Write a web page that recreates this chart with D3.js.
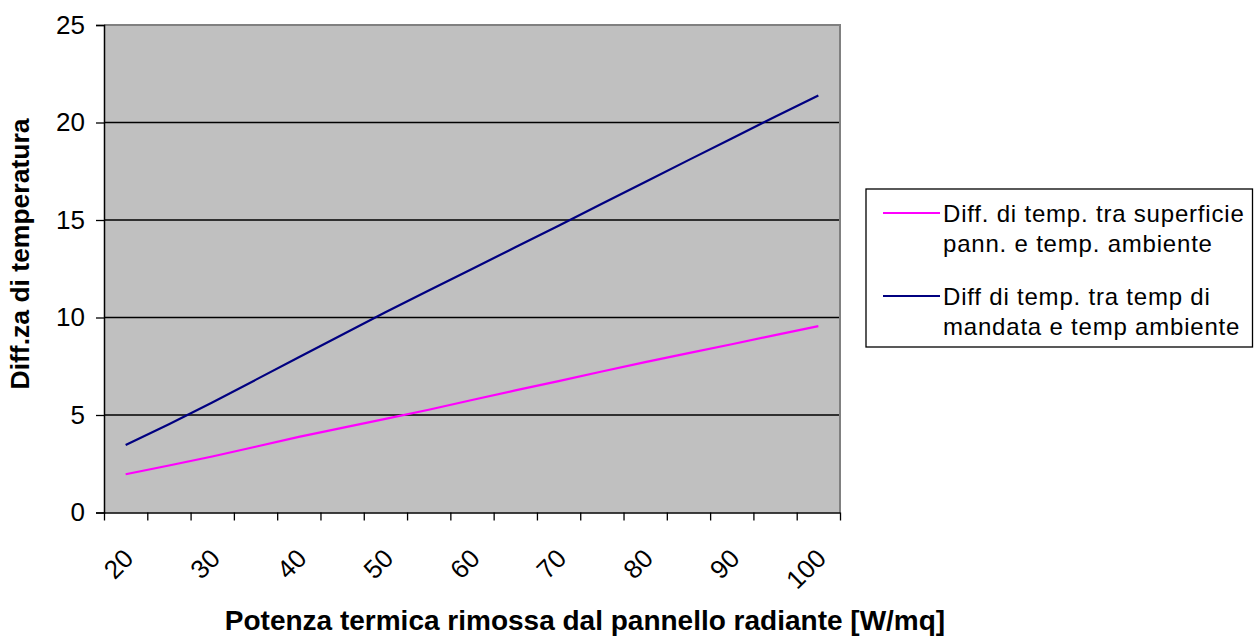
<!DOCTYPE html>
<html>
<head>
<meta charset="utf-8">
<script src="https://cdn.jsdelivr.net/npm/d3@7"></script>
<style>
  html, body { margin: 0; padding: 0; background: #fff; }
  svg { display: block; font-family: Arial, "Liberation Sans", sans-serif; }
</style>
</head>
<body>
<svg id="chart" width="1254" height="636"></svg>
<script>
// Heat output removed by the radiant panel [W/mq]
const categories = [20, 25, 30, 35, 40, 45, 50, 55, 60, 65, 70, 75, 80, 85, 90, 95, 100];
const tickLabels = ["20", "30", "40", "50", "60", "70", "80", "90", "100"];
const yTicks = [0, 5, 10, 15, 20, 25];

// Panel surface minus room temperature
const surfaceDiff = [1.96, 2.41, 2.87, 3.37, 3.88, 4.34, 4.80, 5.27, 5.77, 6.26, 6.74, 7.23, 7.71, 8.17, 8.63, 9.10, 9.56];
// Supply water minus room temperature
const supplyDiff = [3.46, 4.53, 5.64, 6.80, 7.96, 9.12, 10.27, 11.38, 12.49, 13.60, 14.71, 15.83, 16.95, 18.07, 19.18, 20.30, 21.39];

const seriesNames = [
  ["Diff. di temp. tra superficie", "pann. e temp. ambiente"],
  ["Diff di temp. tra temp di", "mandata e temp ambiente"]
];
const seriesColors = ["#ff00ff", "#000080"];

const svg = d3.select("#chart");
const plot = { left: 104, right: 840, top: 25, bottom: 512.5 };

const x = d3.scaleBand().domain(categories).range([plot.left, plot.right]).padding(0);
const edge = d3.scaleLinear().domain([0, categories.length]).range([plot.left, plot.right]);
const y = d3.scaleLinear().domain([0, 25]).range([plot.bottom, plot.top]);

// plot background
svg.append("rect")
  .attr("x", plot.left).attr("y", plot.top)
  .attr("width", plot.right - plot.left).attr("height", plot.bottom - plot.top)
  .attr("fill", "#c0c0c0");

// horizontal gridlines
svg.append("g").selectAll("line")
  .data(yTicks.filter(v => v > 0 && v < 25))
  .join("line")
  .attr("x1", plot.left).attr("x2", plot.right)
  .attr("y1", d => y(d)).attr("y2", d => y(d))
  .attr("stroke", "#000").attr("stroke-width", 1.3);

// top and right frame
svg.append("path")
  .attr("d", `M${plot.left},${plot.top}H${plot.right}V${plot.bottom}`)
  .attr("fill", "none").attr("stroke", "#808080").attr("stroke-width", 2);

// y axis
const yAxis = svg.append("g")
  .attr("transform", `translate(${plot.left},0)`)
  .call(d3.axisLeft(y).tickValues(yTicks).tickSize(8).tickPadding(11));
yAxis.select(".domain").attr("stroke", "#000").attr("stroke-width", 1.5);
yAxis.selectAll(".tick line").attr("stroke", "#000").attr("stroke-width", 1.3);
yAxis.selectAll(".tick text").attr("font-size", 26).attr("fill", "#000")
  .attr("font-family", "Arial, 'Liberation Sans', sans-serif");

// x axis: tick marks between categories
const xAxis = svg.append("g")
  .attr("transform", `translate(0,${plot.bottom})`)
  .call(d3.axisBottom(edge).tickValues(d3.range(categories.length + 1)).tickFormat("").tickSize(8).tickSizeOuter(0));
xAxis.select(".domain").attr("stroke", "#000").attr("stroke-width", 1.5);
xAxis.selectAll(".tick line").attr("stroke", "#000").attr("stroke-width", 1.3);

// rotated category labels
const labelled = categories.filter(c => tickLabels.includes(String(c)));
svg.append("g").selectAll("text")
  .data(labelled)
  .join("text")
  .attr("transform", d => `translate(${x(d) + x.bandwidth() / 2 + 3},${plot.bottom + 41}) rotate(-45)`)
  .attr("text-anchor", "end")
  .attr("dy", "0.35em")
  .attr("font-size", 26)
  .attr("fill", "#000")
  .text(d => String(d));

// series lines
const line = d3.line()
  .x((d, i) => x(categories[i]) + x.bandwidth() / 2)
  .y(d => y(d));
[surfaceDiff, supplyDiff].forEach((s, i) => {
  svg.append("path")
    .datum(s)
    .attr("d", line)
    .attr("fill", "none")
    .attr("stroke", seriesColors[i])
    .attr("stroke-width", 2.2)
    .attr("stroke-linejoin", "round");
});

// axis titles
svg.append("text")
  .attr("transform", `translate(29,254) rotate(-90)`)
  .attr("text-anchor", "middle")
  .attr("font-size", 26.5).attr("font-weight", "bold")
  .text("Diff.za di temperatura");

svg.append("text")
  .attr("x", 585).attr("y", 630)
  .attr("text-anchor", "middle")
  .attr("font-size", 28).attr("font-weight", "bold")
  .text("Potenza termica rimossa dal pannello radiante [W/mq]");

// legend
const legend = svg.append("g");
legend.append("rect")
  .attr("x", 866).attr("y", 189).attr("width", 386.5).attr("height", 158)
  .attr("fill", "#fff").attr("stroke", "#000").attr("stroke-width", 1.3);
const legendRows = [213, 296];
seriesNames.forEach((lines, i) => {
  legend.append("line")
    .attr("x1", 883).attr("x2", 940)
    .attr("y1", legendRows[i]).attr("y2", legendRows[i])
    .attr("stroke", seriesColors[i]).attr("stroke-width", 2.2);
  lines.forEach((t, j) => {
    legend.append("text")
      .attr("x", 943).attr("y", legendRows[i] + 8.5 + j * 30)
      .attr("font-size", 24).attr("letter-spacing", 0.8).attr("fill", "#000")
      .text(t);
  });
});
</script>
</body>
</html>
